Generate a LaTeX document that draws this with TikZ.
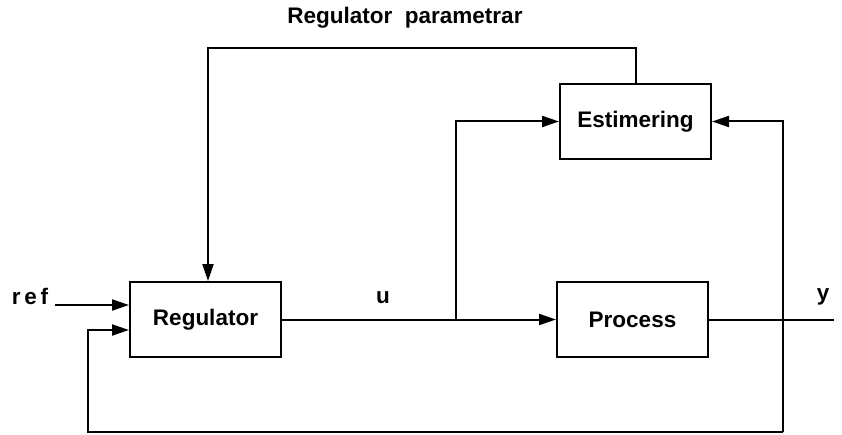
\documentclass[tikz,border=0pt]{standalone}
\usepackage{fontspec}
\setmainfont{Liberation Sans}
\usetikzlibrary{arrows.meta,calc}
\begin{document}
\begin{tikzpicture}[x=1pt,y=1pt,
  blk/.style={draw,line width=2pt,minimum width=151pt,minimum height=75pt,inner sep=0pt,font=\fontsize{22.5}{26}\selectfont\bfseries},
  lbl/.style={font=\fontsize{22.5}{26}\selectfont\bfseries,inner sep=0pt},
  con/.style={line width=2pt},
  arr/.style={con,-{Triangle[length=17pt,width=11pt]}}]
\useasboundingbox (0,0) rectangle (842,434);
\node[blk] (reg) at (205.5,114.5) {Regulator};
\node[blk] (est) at (635.5,312.5) {Estimering};
\node[blk] (proc) at (632.5,114.5) {Process};
\coordinate (refin) at (55,129);
\coordinate (j) at (456,114.5);
\coordinate (out) at (834,114.5);
\coordinate (tap) at (783,114.5);
\node[lbl] (reft) at (30,138) {r\,e\,f};
\node[lbl] (ut) at (383,136) {u};
\node[lbl] (yt) at (823,137) {y};
\node[lbl] (part) at (405,416) {Regulator\ \ parametrar};
\draw[arr] (refin) -- (refin -| reg.west);
\draw[arr] (reg.east) -- (proc.west);
\draw[arr] (j) |- (est.west);
\draw[con] (proc.east) -- (out);
\draw[arr] (tap |- 0,2) -- (tap |- est.east) -- (est.east);
\draw[arr] (tap |- 0,2) -- (88,2) -- (88,104) -- (reg.west |- 0,104);
\draw[arr] (est.north) -- (est.north |- 0,386) -- (208,386) -- (208,0 |- reg.north);
\end{tikzpicture}
\end{document}
